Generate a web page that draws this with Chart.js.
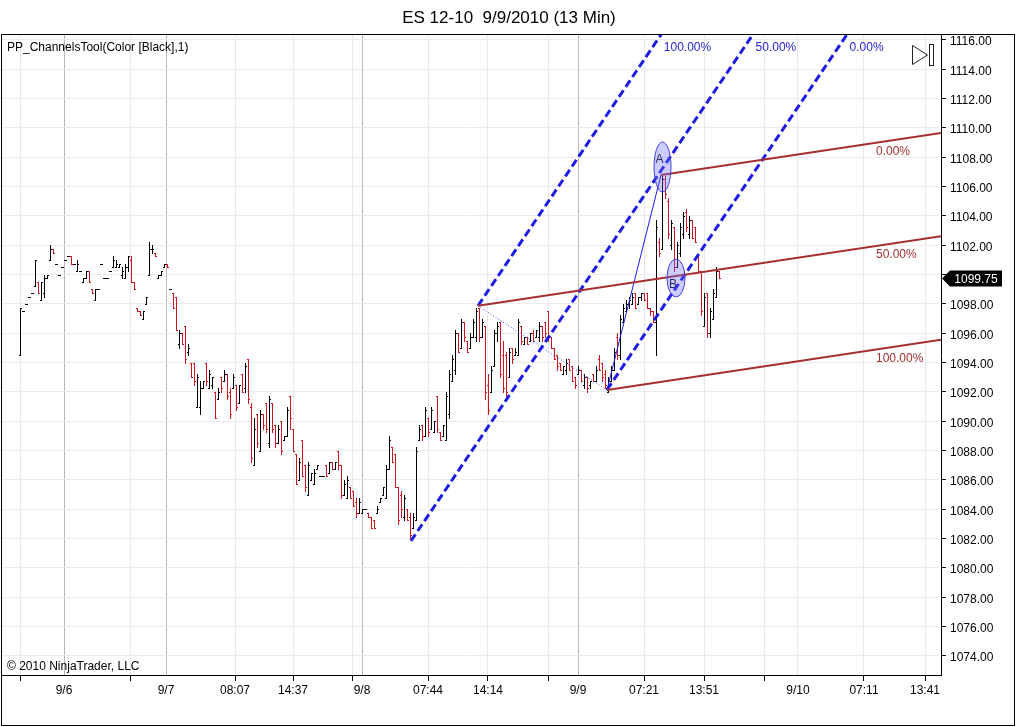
<!DOCTYPE html>
<html>
<head>
<meta charset="utf-8">
<title>ES 12-10 9/9/2010 (13 Min)</title>
<script src="https://cdn.jsdelivr.net/npm/chart.js@4.4.1/dist/chart.umd.min.js"></script>
<style>
  html, body { margin: 0; padding: 0; background: #fff; }
  #box { position: relative; width: 1016px; height: 727px; }
</style>
</head>
<body>
<div id="box"><canvas id="esChart"></canvas></div>
<script>
// 13 minute ES 12-10 bars, one entry per bar
const opens = [
  1094.5,1097.5,1098,1098.5,1098.75,1099.25,1099.5,1098.25,1098.75,1099.75,
  1101,1101.75,1100.75,1100,1100.5,1101,1101.25,1101.25,1100.75,1100.25,
  1100.25,1099.5,1099.75,1100.25,1099,1098.25,1099,1100.75,1099.75,1099.75,
  1100.25,1100.5,1100.5,1100.5,1100,1099.75,1100.5,1101,1099.5,1097.75,
  1097.5,1097,1098,1100,1101.75,1101.5,1099.75,1100,1100.5,1100.75,
  1099,1098.75,1098.5,1095.25,1096,1096.5,1094.75,1094,1094,1091,
  1091,1092.25,1094,1092.25,1092.5,1092,1091.5,1093,1092.75,1093.25,
  1092,1092.25,1092.5,1091.25,1093.25,1092.25,1094.25,1091,1087,1090.5,
  1088,1090.5,1091.25,1088.5,1091.25,1089.75,1088.5,1090,1088.75,1089,
  1091.75,1089.5,1087.75,1086,1088.75,1087,1085,1086,1085.75,1086.75,
  1086.25,1086.25,1087,1086.5,1087.25,1086.75,1088,1087,1085,1084.75,
  1085.5,1085.25,1084.5,1083.75,1083.75,1084,1083.75,1083.5,1083.25,1083.75,
  1084.5,1085,1084.75,1086.75,1088.25,1087.75,1085.5,1085,1083.5,1084,
  1083.5,1082.75,1083.25,1088.75,1089.75,1089,1090.25,1089.5,1089.25,1091.75,
  1089.25,1089,1088.75,1090.5,1092.75,1093.5,1096,1095,1096.75,1095.5,
  1095,1095.75,1095.75,1097.75,1095.75,1096.5,1092.5,1092,1093.75,1096,
  1096.75,1094.5,1094.5,1093,1095,1094.5,1094.5,1096.5,1095.25,1095.75,
  1095.5,1096,1095.75,1095.75,1096.5,1096.75,1097.5,1095.75,1095,1094.5,
  1094,1093.25,1093.5,1094.25,1093.75,1093,1093.25,1093.5,1092.5,1093,
  1092.5,1093.25,1092.75,1094.25,1094,1093.25,1092,1092.75,1093.5,1095.75,
  1094.5,1096.75,1097.5,1098,1098,1098.75,1098,1098.5,1098.75,1098.75,
  1097.75,1097.5,1096.75,1102.25,1101.75,1106.5,1105,1102,1103.25,1100.5,
  1101.5,1102.75,1104.25,1102.75,1103.75,1103.25,1101.25,1100.25,1096.5,1098.75,
  1096,1097,1098.5,1100.25
];
const highs = [
  1097.75,1097.5,1098,1098.5,1098.75,1101,1099.5,1099.5,1100,1100,
  1102,1101.75,1100.75,1100,1100.5,1101,1101.25,1101.25,1100.75,1101,
  1100.25,1099.75,1100.25,1100.25,1099,1099,1099,1100.75,1099.75,1099.75,
  1100.25,1101.25,1101,1100.75,1100.5,1100.75,1101.25,1101.25,1099.5,1097.75,
  1097.5,1097.5,1098.5,1102.25,1102,1101.5,1100,1100.25,1100.75,1100.75,
  1099,1098.75,1098.5,1096.25,1096,1096.5,1095.25,1094,1094,1093.25,
  1092.75,1092.75,1094,1093.5,1093,1092,1092.25,1093,1093.5,1093.25,
  1092.25,1093.25,1092.5,1092.5,1093.25,1094,1094.25,1091.25,1090.25,1090.5,
  1090.75,1090.5,1091.25,1091.75,1091.25,1089.75,1089.75,1090,1089,1091,
  1091.75,1089.5,1087.75,1087.5,1088.75,1087,1087.25,1086.5,1086.75,1087,
  1086.25,1086.25,1087,1087.25,1087.25,1087.25,1088,1087,1086,1086.25,
  1085.5,1085.25,1084.75,1084.75,1084,1084,1083.75,1083.5,1083.25,1084.25,
  1084.75,1085.5,1087,1089,1088.25,1087.75,1085.5,1085.25,1085,1084,
  1083.75,1083.75,1088.25,1089.75,1089.75,1091,1090.25,1091,1090,1091.75,
  1089.25,1089.75,1092,1093.5,1094.5,1096.25,1096,1097,1096.75,1095.5,
  1096,1097,1097.75,1097.75,1097,1096.5,1093.25,1093.75,1096.25,1096.75,
  1096.75,1095.5,1094.75,1095,1095,1095,1097,1096.5,1095.75,1095.75,
  1096,1096.25,1096.25,1096.75,1096.5,1096.75,1097.5,1095.75,1095,1094.5,
  1094,1093.75,1094.25,1094.25,1093.75,1093,1093.75,1093.5,1093.25,1093,
  1092.75,1093.25,1093.75,1094.5,1094,1093.5,1093,1093.75,1095,1096,
  1097.25,1098,1098.25,1098.5,1098.75,1098.75,1098.5,1098.75,1098.75,1098.75,
  1097.75,1097.5,1103.75,1102.5,1106.75,1106.75,1105.25,1103.75,1103.25,1102.25,
  1103.5,1104.25,1104.5,1104,1103.75,1103.25,1101.25,1100.25,1098.75,1098.75,
  1097.75,1099,1100.5,1100.25
];
const lows = [
  1094.5,1097.5,1098,1098.5,1098.75,1099.25,1098.75,1098.25,1098.5,1099.75,
  1101,1101.5,1100.75,1100,1100.5,1101,1101.25,1100.75,1100.75,1100.25,
  1100.25,1099.5,1099.75,1099.5,1098.75,1098.25,1099,1100.75,1099.75,1099.75,
  1100.25,1100.5,1100.5,1100.5,1099.75,1099.75,1100.25,1099.5,1099,1097.5,
  1097.25,1097,1098,1100,1101.5,1101.25,1099.75,1100,1100.5,1100.5,
  1099,1097.75,1096.25,1095,1095.25,1094,1094.5,1093,1092.5,1091,
  1090.5,1092.25,1092.5,1092.25,1092.25,1090.25,1091.5,1092,1092.75,1091.5,
  1090.25,1092.25,1090.75,1091.25,1092,1092,1091.25,1087.25,1087,1088.25,
  1088,1089.5,1089.25,1088.25,1089.25,1088.25,1088.5,1087.75,1088.75,1089,
  1089.5,1088,1085.75,1086,1086.25,1085.25,1085,1086,1085.75,1086.75,
  1086.25,1086.25,1086.25,1086.5,1086.75,1086.75,1086.75,1084.75,1085,1084.75,
  1084.75,1084.25,1083.5,1083.75,1083.75,1084,1083.5,1082.75,1082.75,1083.75,
  1084.5,1085,1084.75,1086.75,1087.25,1085.5,1083,1083.5,1083.25,1083.25,
  1082,1082.75,1083.25,1088.75,1088.75,1089,1089,1089.5,1089.25,1089.25,
  1088.75,1089,1088.75,1090.25,1092.75,1093.25,1094.75,1095,1095.5,1094.75,
  1095,1095.75,1095.5,1095.5,1095.75,1091.5,1090.5,1092,1093.75,1095.5,
  1093,1092,1091.75,1093,1094,1094.5,1094.5,1095.25,1095.25,1095.25,
  1095.5,1095.5,1095.75,1095.5,1095.5,1095.75,1095.5,1095,1094.25,1093.5,
  1093.5,1093.25,1093.25,1093.5,1092.75,1092.25,1093.25,1092.75,1092.25,1092,
  1092.25,1092.75,1092.75,1093.5,1092.75,1092.25,1092,1092.75,1093.5,1094.25,
  1094.25,1096.75,1097.5,1097.75,1098,1097.75,1098,1098.25,1098.25,1097.75,
  1097.25,1096.75,1094.5,1101.25,1101.75,1105.25,1102.5,1101.75,1100.25,1100.5,
  1101.25,1102.5,1103,1102.5,1102.5,1102.25,1100.25,1097.25,1096.5,1095.75,
  1095.75,1097,1098.5,1099.75
];
const closes = [
  1097.75,1097.5,1098,1098.5,1098.75,1101,1098.75,1099.5,1099.75,1100,
  1101.75,1101.5,1100.75,1100,1100.5,1101,1101.25,1100.75,1100.75,1100.75,
  1100.25,1099.75,1100.25,1099.5,1098.75,1099,1099,1100.75,1099.75,1099.75,
  1100.25,1101,1100.75,1100.75,1100.25,1100.5,1101.25,1099.5,1099,1097.5,
  1097.25,1097.5,1098.5,1101.75,1101.75,1101.25,1100,1100.25,1100.75,1100.5,
  1099,1097.75,1096.25,1096,1095.25,1094.25,1095,1093,1092.75,1093,
  1092.25,1092.75,1092.75,1093.25,1093,1090.25,1092,1092.25,1093.25,1091.75,
  1090.5,1093,1091,1092.5,1092,1093.75,1091.5,1087.5,1089.5,1088.5,
  1090.5,1089.75,1089.5,1091.5,1089.5,1088.5,1089.5,1088,1089,1090.75,
  1090.25,1088,1085.75,1087.25,1086.25,1085.5,1087,1086.5,1086.5,1087,
  1086.25,1086.25,1086.25,1087.25,1086.75,1087.25,1087,1085,1085.75,1086,
  1084.75,1084.25,1083.75,1084.5,1084,1084,1083.5,1082.75,1082.75,1084,
  1084.75,1085.5,1086.75,1088.75,1087.25,1085.5,1083.25,1084,1084.75,1083.25,
  1082.25,1083.5,1088,1089.5,1089,1090.75,1089.25,1090.75,1090,1089.5,
  1088.75,1089.75,1091.75,1093.25,1094.25,1096,1094.75,1096.75,1095.75,1094.75,
  1095.75,1096.75,1097.5,1095.75,1096.75,1092,1090.75,1093.5,1096,1096.5,
  1093.25,1092.25,1092,1094.75,1094.25,1094.75,1096.75,1095.5,1095.75,1095.25,
  1096,1095.5,1096.25,1096.5,1095.75,1096,1095.75,1095,1094.25,1093.75,
  1093.5,1093.75,1094,1093.5,1092.75,1092.5,1093.5,1092.75,1093,1092.25,
  1092.75,1092.75,1093.5,1093.5,1093,1092.5,1092.75,1093.5,1094.75,1094.5,
  1097,1097.75,1098,1098.25,1098.5,1097.75,1098.5,1098.75,1098.25,1097.75,
  1097.5,1096.75,1103.25,1101.5,1106.5,1105.5,1102.75,1103.5,1100.5,1102,
  1103.25,1104,1103.25,1103.75,1102.5,1102.25,1100.25,1097.5,1098.5,1096,
  1097.5,1098.75,1100.25,1099.75
];

const priceTicks = [1074, 1076, 1078, 1080, 1082, 1084, 1086, 1088, 1090, 1092, 1094,
  1096, 1098, 1100, 1102, 1104, 1106, 1108, 1110, 1112, 1114, 1116];
// time axis ticks in bar units
const timeTicks = [0.33, 14.67, 36.67, 48.67, 71.67, 91, 110.67, 114, 136, 156, 176, 186,
  208, 228, 248, 259.33, 281.33, 301.67];
const timeLabels = ['', '9/6', '', '9/7', '08:07', '14:37', '', '9/8', '07:44', '14:14', '',
  '9/9', '07:21', '13:51', '', '9/10', '07:11', '13:41'];
// session breaks drawn with a darker grid line
const sessionTicks = [1, 3, 7, 11];

// channel tool anchors: swing low, first high, reaction low, point A
const anchorBars = [130.33, 152.67, 195.67, 213.67];
const anchorPrices = [1081.84, 1097.88, 1092.14, 1106.8];
const forkSlope = 0.303;    // price per bar, blue channel
const levelSlope = 0.0307;  // price per bar, red channel
const forkAnchors = [1, 0, 2];
const forkLabels = ['100.00%', '50.00%', '0.00%'];
const levelAnchors = [3, 1, 2];
const levelLabels = ['0.00%', '50.00%', '100.00%'];
const markBars = [214.17, 218.67];
const markPrices = [1107.34, 1099.77];
const markNames = ['A', 'B'];

const RED = '#d0141e';
const BLUE = '#1c1ce6';
const BROWN = '#a5302f';
const FONT = "Arial, 'Liberation Sans', sans-serif";
const lastPrice = closes[closes.length - 1];

function ray(k, slope, toBar) {
  return [
    { x: anchorBars[k], y: anchorPrices[k] },
    { x: toBar, y: anchorPrices[k] + slope * (toBar - anchorBars[k]) }
  ];
}
function pt(k) { return { x: anchorBars[k], y: anchorPrices[k] }; }

const lineBase = { showLine: true, pointRadius: 0, fill: false, tension: 0 };
const datasets = [];
levelAnchors.forEach(k => datasets.push({ ...lineBase, data: ray(k, levelSlope, 307), borderColor: BROWN, borderWidth: 2 }));
forkAnchors.forEach(k => datasets.push({ ...lineBase, data: ray(k, forkSlope, anchorBars[k] + 130), borderColor: BLUE, borderWidth: 3, borderDash: [8, 4] }));
datasets.push({ ...lineBase, data: [pt(2), pt(3)], borderColor: BLUE, borderWidth: 1 });
datasets.push({ ...lineBase, data: [pt(1), pt(2)], borderColor: '#5050f0', borderWidth: 1, borderDash: [1, 2] });

const ohlcBars = {
  id: 'ohlcBars',
  beforeDatasetsDraw(chart) {
    const { ctx, chartArea: a, scales: { x, y } } = chart;
    ctx.save();
    ctx.beginPath();
    ctx.rect(a.left, a.top, a.right - a.left, a.bottom - a.top);
    ctx.clip();
    for (let i = 0; i < closes.length; i++) {
      const px = Math.round(x.getPixelForValue(i));
      const hi = Math.round(y.getPixelForValue(highs[i]));
      const lo = Math.round(y.getPixelForValue(lows[i]));
      const po = Math.round(y.getPixelForValue(opens[i]));
      const pc = Math.round(y.getPixelForValue(closes[i]));
      ctx.fillStyle = closes[i] < opens[i] ? RED : '#000';
      ctx.fillRect(px, hi, 1, lo - hi + 1);
      ctx.fillRect(px - 1, po, 1, 1);
      ctx.fillRect(px + 1, pc, 1, 1);
    }
    ctx.restore();
  },
  afterDatasetsDraw(chart) {
    const { ctx, chartArea: a, scales: { x, y } } = chart;
    ctx.save();
    ctx.font = '12px ' + FONT;
    ctx.textBaseline = 'middle';
    // A / B markers
    const radii = [[8.5, 25], [9, 19]];
    markBars.forEach((b, k) => {
      const cx = x.getPixelForValue(b), cy = y.getPixelForValue(markPrices[k]);
      ctx.beginPath();
      ctx.ellipse(cx, cy, radii[k][0], radii[k][1], 0, 0, Math.PI * 2);
      ctx.fillStyle = 'rgba(110,110,255,0.35)';
      ctx.fill();
      ctx.strokeStyle = '#4040e0';
      ctx.lineWidth = 1;
      ctx.stroke();
      ctx.fillStyle = '#2a2a6a';
      ctx.textAlign = 'center';
      ctx.fillText(markNames[k], cx - 3, cy + (k === 0 ? -7 : 7));
    });
    // red level labels
    const labelBar = 285.33;
    ctx.textAlign = 'left';
    ctx.fillStyle = BROWN;
    levelAnchors.forEach((k, j) => {
      const v = anchorPrices[k] + levelSlope * (labelBar - anchorBars[k]);
      ctx.fillText(levelLabels[j], x.getPixelForValue(labelBar), y.getPixelForValue(v) + 9);
    });
    // blue labels where the channel leaves the top
    ctx.fillStyle = '#2525d0';
    forkAnchors.forEach((k, j) => {
      const exitBar = anchorBars[k] + (y.max - anchorPrices[k]) / forkSlope;
      ctx.fillText(forkLabels[j], x.getPixelForValue(exitBar) + 3, a.top + 13);
    });
    ctx.restore();
  },
  afterDraw(chart) {
    const { ctx, chartArea: a, scales: { y } } = chart;
    ctx.save();
    ctx.font = '12px ' + FONT;
    ctx.textBaseline = 'middle';
    ctx.textAlign = 'left';
    ctx.fillStyle = '#000';
    ctx.fillText('PP_ChannelsTool(Color [Black],1)', a.left + 5, a.top + 13);
    ctx.fillText('\u00a9 2010 NinjaTrader, LLC', a.left + 5, a.bottom - 8);
    // scroll-to-end icon
    const ix = a.right - 29, iy = a.top + 10;
    ctx.strokeStyle = '#222';
    ctx.lineWidth = 1;
    ctx.beginPath();
    ctx.moveTo(ix + 0.5, iy + 0.5);
    ctx.lineTo(ix + 15.5, iy + 10);
    ctx.lineTo(ix + 0.5, iy + 19.5);
    ctx.closePath();
    ctx.stroke();
    ctx.strokeRect(ix + 17.5, iy - 0.5, 4, 21);
    // last price marker
    const py = Math.round(y.getPixelForValue(lastPrice)) + 0.5;
    const x0 = a.right + 1;
    ctx.beginPath();
    ctx.moveTo(x0, py);
    ctx.lineTo(x0 + 8, py - 8);
    ctx.lineTo(x0 + 60, py - 8);
    ctx.lineTo(x0 + 60, py + 8);
    ctx.lineTo(x0 + 8, py + 8);
    ctx.closePath();
    ctx.fillStyle = '#000';
    ctx.fill();
    ctx.fillStyle = '#fff';
    ctx.textAlign = 'center';
    ctx.fillText(lastPrice.toFixed(2), x0 + 34, py + 1);
    // outer frame
    ctx.strokeStyle = '#000';
    ctx.strokeRect(1.5, 34.5, 1013, 691);
    ctx.restore();
  }
};

new Chart(document.getElementById('esChart'), {
  type: 'scatter',
  data: { datasets },
  options: {
    responsive: true,
    maintainAspectRatio: false,
    animation: false,
    events: [],
    layout: { padding: { left: 2, top: 0, right: 0, bottom: 0 } },
    plugins: {
      legend: { display: false },
      tooltip: { enabled: false },
      title: {
        display: true,
        text: 'ES 12-10  9/9/2010 (13 Min)',
        color: '#000',
        font: { family: FONT, size: 17, weight: 'normal' },
        padding: { top: 8, bottom: 6.6 }
      }
    },
    scales: {
      x: {
        type: 'linear',
        position: 'bottom',
        min: -6,
        max: 307,
        afterBuildTicks: s => { s.ticks = timeTicks.map(v => ({ value: v })); },
        afterFit: s => { s.height = 52; },
        ticks: {
          autoSkip: false,
          maxRotation: 0,
          minRotation: 0,
          padding: 2,
          color: '#000',
          font: { family: FONT, size: 12 },
          callback: (v, i) => timeLabels[i]
        },
        grid: {
          color: c => sessionTicks.includes(c.index) ? '#b8b8b8' : '#e8e8e8',
          tickColor: c => (timeLabels[c.index] || '').includes('/') ? 'rgba(0,0,0,0)' : '#000',
          tickLength: 6
        },
        border: { display: true, color: '#000', width: 1 }
      },
      y: {
        type: 'linear',
        position: 'right',
        min: 1072.70,
        max: 1116.34,
        afterBuildTicks: s => { s.ticks = priceTicks.map(v => ({ value: v })); },
        afterFit: s => { s.width = 75; },
        ticks: {
          padding: 4,
          labelOffset: 2,
          color: '#000',
          font: { family: FONT, size: 12 },
          callback: v => Math.abs(v - lastPrice) < 1 ? '' : v.toFixed(2)
        },
        grid: { color: '#ebebeb', tickColor: '#000', tickLength: 5 },
        border: { display: true, color: '#000', width: 1 }
      }
    }
  },
  plugins: [ohlcBars]
});
</script>
</body>
</html>
